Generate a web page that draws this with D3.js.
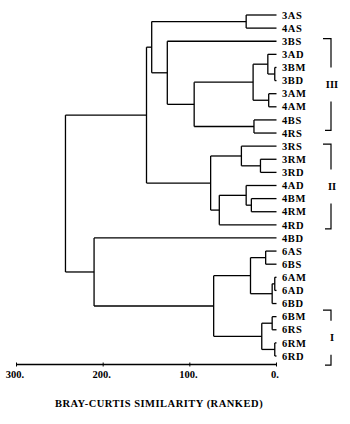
<!DOCTYPE html>
<html>
<head>
<meta charset="utf-8">
<script src="https://cdn.jsdelivr.net/npm/d3@7"></script>
<style>
  html, body { margin: 0; padding: 0; background: #fff; }
  svg { display: block; }
  text { font-family: "Liberation Serif", "Times New Roman", serif; font-weight: bold; fill: #000; }
</style>
</head>
<body>
<svg id="chart" width="350" height="424"></svg>
<script>
// ---- data ----
const leaves = ["3AS","4AS","3BS","3AD","3BM","3BD","3AM","4AM","4BS","4RS",
                "3RS","3RM","3RD","4AD","4BM","4RM","4RD","4BD",
                "6AS","6BS","6AM","6AD","6BD","6BM","6RS","6RM","6RD"];
// merges: [cluster id, left child, right child, height (Bray-Curtis ranked)]
const merges = [
  ["c1","3AS","4AS",35],
  ["c2","3BM","3BD",2],
  ["c3","3AD","c2",10],
  ["c4","3AM","4AM",9],
  ["c5","c3","c4",27],
  ["c6","4BS","4RS",26],
  ["c7","c5","c6",95],
  ["c8","3BS","c7",126],
  ["c9","c1","c8",144],
  ["c10","3RM","3RD",18.5],
  ["c11","3RS","c10",40.5],
  ["c12","4BM","4RM",29],
  ["c13","4AD","c12",35],
  ["c14","c13","4RD",66],
  ["c15","c11","c14",76],
  ["c16","c9","c15",150],
  ["c17","6AS","6BS",12.5],
  ["c18","6AM","6AD",2],
  ["c19","c18","6BD",5],
  ["c20","c17","c19",30],
  ["c21","6BM","6RS",5],
  ["c22","6RM","6RD",2],
  ["c23","c21","c22",17],
  ["c24","c20","c23",72.5],
  ["c25","4BD","c24",210.5],
  ["c26","c16","c25",243.5]
];
const groupLabels = ["III","II","I"];
// bracket extents in leaf-index units
const groupSpans = [[1.8, 8.8],[9.85, 16.3],[22.5, 26.7]];
const xTicks = [300, 200, 100, 0];
const xTickLabels = ["300.", "200.", "100.", "0."];
const xTitle = "BRAY-CURTIS SIMILARITY (RANKED)";

// ---- build tree ----
const nodeMap = {};
leaves.forEach(l => nodeMap[l] = {name: l, height: 0});
merges.forEach(([id, a, b, h]) => nodeMap[id] = {name: id, height: h, children: [nodeMap[a], nodeMap[b]]});
const root = d3.hierarchy(nodeMap[merges[merges.length - 1][0]]);

// ---- scales ----
const svg = d3.select("#chart");
const x = d3.scaleLinear().domain([300, 0]).range([16.5, 276.5]);
const y = d3.scalePoint().domain(leaves).range([15, 356]);
const yIdx = d3.scaleLinear().domain([0, leaves.length - 1]).range([15, 356]);

root.eachAfter(n => {
  n.px = x(n.data.height);
  if (!n.children) n.py = y(n.data.name);
  else n.py = (n.children[0].py + n.children[1].py) / 2;
});

const g = svg.append("g");
const stroke = "#000", sw = 1.3;

root.descendants().forEach(n => {
  if (!n.children) return;
  const [c0, c1] = n.children;
  g.append("line").attr("x1", n.px).attr("x2", n.px).attr("y1", c0.py).attr("y2", c1.py)
    .attr("stroke", stroke).attr("stroke-width", sw);
  n.children.forEach(c => {
    g.append("line").attr("x1", n.px).attr("x2", c.px).attr("y1", c.py).attr("y2", c.py)
      .attr("stroke", stroke).attr("stroke-width", sw);
  });
});

g.selectAll("text.leaf").data(root.leaves()).join("text")
  .attr("class", "leaf")
  .attr("x", 282)
  .attr("y", d => d.py)
  .attr("dy", "0.35em")
  .attr("font-size", 10.5)
  .attr("letter-spacing", 0.6)
  .text(d => d.data.name);

const bx = 331, tick = 8, halfGap = 17;
groupSpans.forEach((s, i) => {
  const y0 = yIdx(s[0]), y1 = yIdx(s[1]), ym = (y0 + y1) / 2;
  const path = `M${bx - tick},${y0}H${bx}V${ym - halfGap}M${bx},${ym + halfGap}V${y1}H${bx - tick + 2}`;
  g.append("path").attr("d", path).attr("fill", "none").attr("stroke", stroke).attr("stroke-width", 1.2);
  g.append("text").attr("x", bx + 1).attr("y", ym).attr("dy", "0.35em")
    .attr("text-anchor", "middle").attr("font-size", 10.5).attr("font-weight", "normal")
    .text(groupLabels[i]);
});

const axisY = 364.5;
const axis = svg.append("g");
axis.append("line").attr("x1", x(300)).attr("x2", x(0)).attr("y1", axisY).attr("y2", axisY)
  .attr("stroke", stroke).attr("stroke-width", 1.3);
axis.selectAll("line.tick").data(xTicks).join("line").attr("class", "tick")
  .attr("x1", d => x(d)).attr("x2", d => x(d)).attr("y1", axisY - 2).attr("y2", axisY + 2)
  .attr("stroke", stroke).attr("stroke-width", 1);
axis.selectAll("text.tl").data(xTicks).join("text").attr("class", "tl")
  .attr("x", d => x(d) - 1.5).attr("y", 378)
  .attr("text-anchor", "middle").attr("font-size", 10.5)
  .text((d, i) => xTickLabels[i]);

svg.append("text").attr("x", 159).attr("y", 407)
  .attr("text-anchor", "middle").attr("font-size", 10.5)
  .attr("letter-spacing", 0.5)
  .text(xTitle);
</script>
</body>
</html>
